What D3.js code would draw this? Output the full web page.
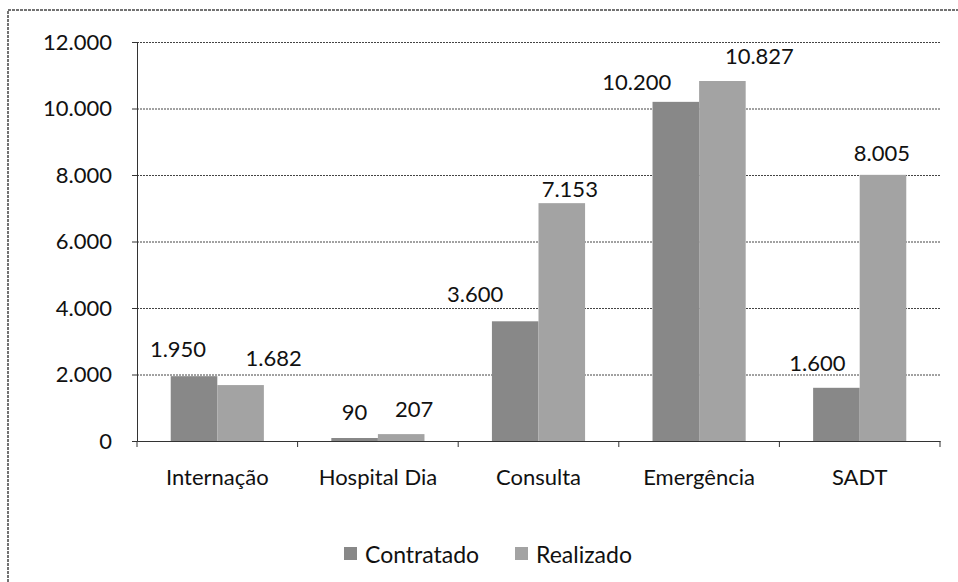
<!DOCTYPE html>
<html>
<head>
<meta charset="utf-8">
<script src="https://cdn.jsdelivr.net/npm/d3@7"></script>
<style>
  body { margin: 0; background: #fff; }
  svg text { font-family: Lato, "Open Sans", sans-serif; fill: #111; }
</style>
</head>
<body>
<div id="chart"></div>
<script>
// categories and series
const categories = ['Internação', 'Hospital Dia', 'Consulta', 'Emergência', 'SADT'];
const seriesNames = ['Contratado', 'Realizado'];
const contratado = [1950, 90, 3600, 10200, 1600];
const realizado = [1682, 207, 7153, 10827, 8005];
const yTicks = [0, 2000, 4000, 6000, 8000, 10000, 12000];

// hand placed label offsets in the original (dx from bar centre, dy from bar top)
const labelNudge = {
  Contratado: [[-16, -28], [0, -27], [-40, -28], [-39, -20], [-19, -25]],
  Realizado: [[33, -28], [13, -26], [8, -15], [37, -26], [-1, -22]]
};

const colors = { Contratado: '#888888', Realizado: '#a3a3a3' };

const W = 958, H = 582;
const plotL = 137, plotR = 940, plotT = 42, plotB = 441;

const svg = d3.select('#chart').append('svg').attr('width', W).attr('height', H);

// scanned frame (left + top edges visible)
svg.append('rect')
  .attr('x', 8).attr('y', 10).attr('width', 1000).attr('height', 1000)
  .attr('fill', 'none').attr('stroke', '#444').attr('stroke-width', 1.5)
  .attr('stroke-dasharray', '3,1');

const fmt = d3.formatLocale({ decimal: ',', thousands: '.', grouping: [3], currency: ['', ''] }).format(',d');

const x = d3.scaleBand().domain(categories).range([plotL, plotR]).paddingInner(0.42).paddingOuter(0.21);
const xs = d3.scaleBand().domain(seriesNames).range([0, x.bandwidth()]);
const y = d3.scaleLinear().domain([0, 12000]).range([plotB, plotT]);

// grid
svg.append('g').selectAll('line').data(yTicks.slice(1)).join('line')
  .attr('x1', plotL).attr('x2', plotR)
  .attr('y1', d => y(d) + 0.5).attr('y2', d => y(d) + 0.5)
  .attr('stroke', '#444').attr('stroke-dasharray', '2,1');

// y axis
const yAxis = svg.append('g').attr('transform', `translate(${plotL},0)`)
  .call(d3.axisLeft(y).tickValues(yTicks).tickFormat(fmt).tickSize(5).tickPadding(20));
yAxis.select('.domain').attr('stroke', '#333');
yAxis.selectAll('.tick line').attr('stroke', '#333');
yAxis.selectAll('text').style('font-size', '22px').attr('fill', '#222');

// bars
const groups = svg.append('g').selectAll('g').data(categories).join('g')
  .attr('transform', d => `translate(${x(d)},0)`);

const rows = categories.map((c, i) => seriesNames.map(s => ({
  cat: c, i, s, v: s === 'Contratado' ? contratado[i] : realizado[i]
})));

groups.selectAll('rect').data((d, i) => rows[i]).join('rect')
  .attr('x', d => xs(d.s))
  .attr('y', d => y(d.v))
  .attr('width', xs.bandwidth())
  .attr('height', d => y(0) - y(d.v))
  .attr('fill', d => colors[d.s]);

groups.selectAll('text').data((d, i) => rows[i]).join('text')
  .attr('x', d => xs(d.s) + xs.bandwidth() / 2 + labelNudge[d.s][d.i][0])
  .attr('y', d => y(d.v) + labelNudge[d.s][d.i][1])
  .attr('text-anchor', 'middle')
  .attr('dominant-baseline', 'central')
  .style('font-size', '22px')
  .text(d => fmt(d.v));

// x axis
const xAxis = svg.append('g').attr('transform', `translate(0,${plotB})`)
  .call(d3.axisBottom(x).tickSize(0).tickPadding(28));
xAxis.select('.domain').attr('stroke', '#333');
xAxis.selectAll('text').style('font-size', '22px').attr('fill', '#222');
svg.append('g').selectAll('line')
  .data(categories.map(c => x(c) - x.step() * 0.21).concat([plotR]))
  .join('line')
  .attr('x1', d => d).attr('x2', d => d)
  .attr('y1', plotB).attr('y2', plotB + 6)
  .attr('stroke', '#333');

// legend
const legend = svg.append('g').selectAll('g').data(seriesNames).join('g')
  .attr('transform', (d, i) => `translate(${344 + i * 171},547)`);
legend.append('rect').attr('width', 13).attr('height', 13).attr('fill', d => colors[d]);
legend.append('text').attr('x', 21).attr('y', 7).attr('dominant-baseline', 'central')
  .style('font-size', '23px').attr('fill', '#222').text(d => d);
</script>
</body>
</html>
